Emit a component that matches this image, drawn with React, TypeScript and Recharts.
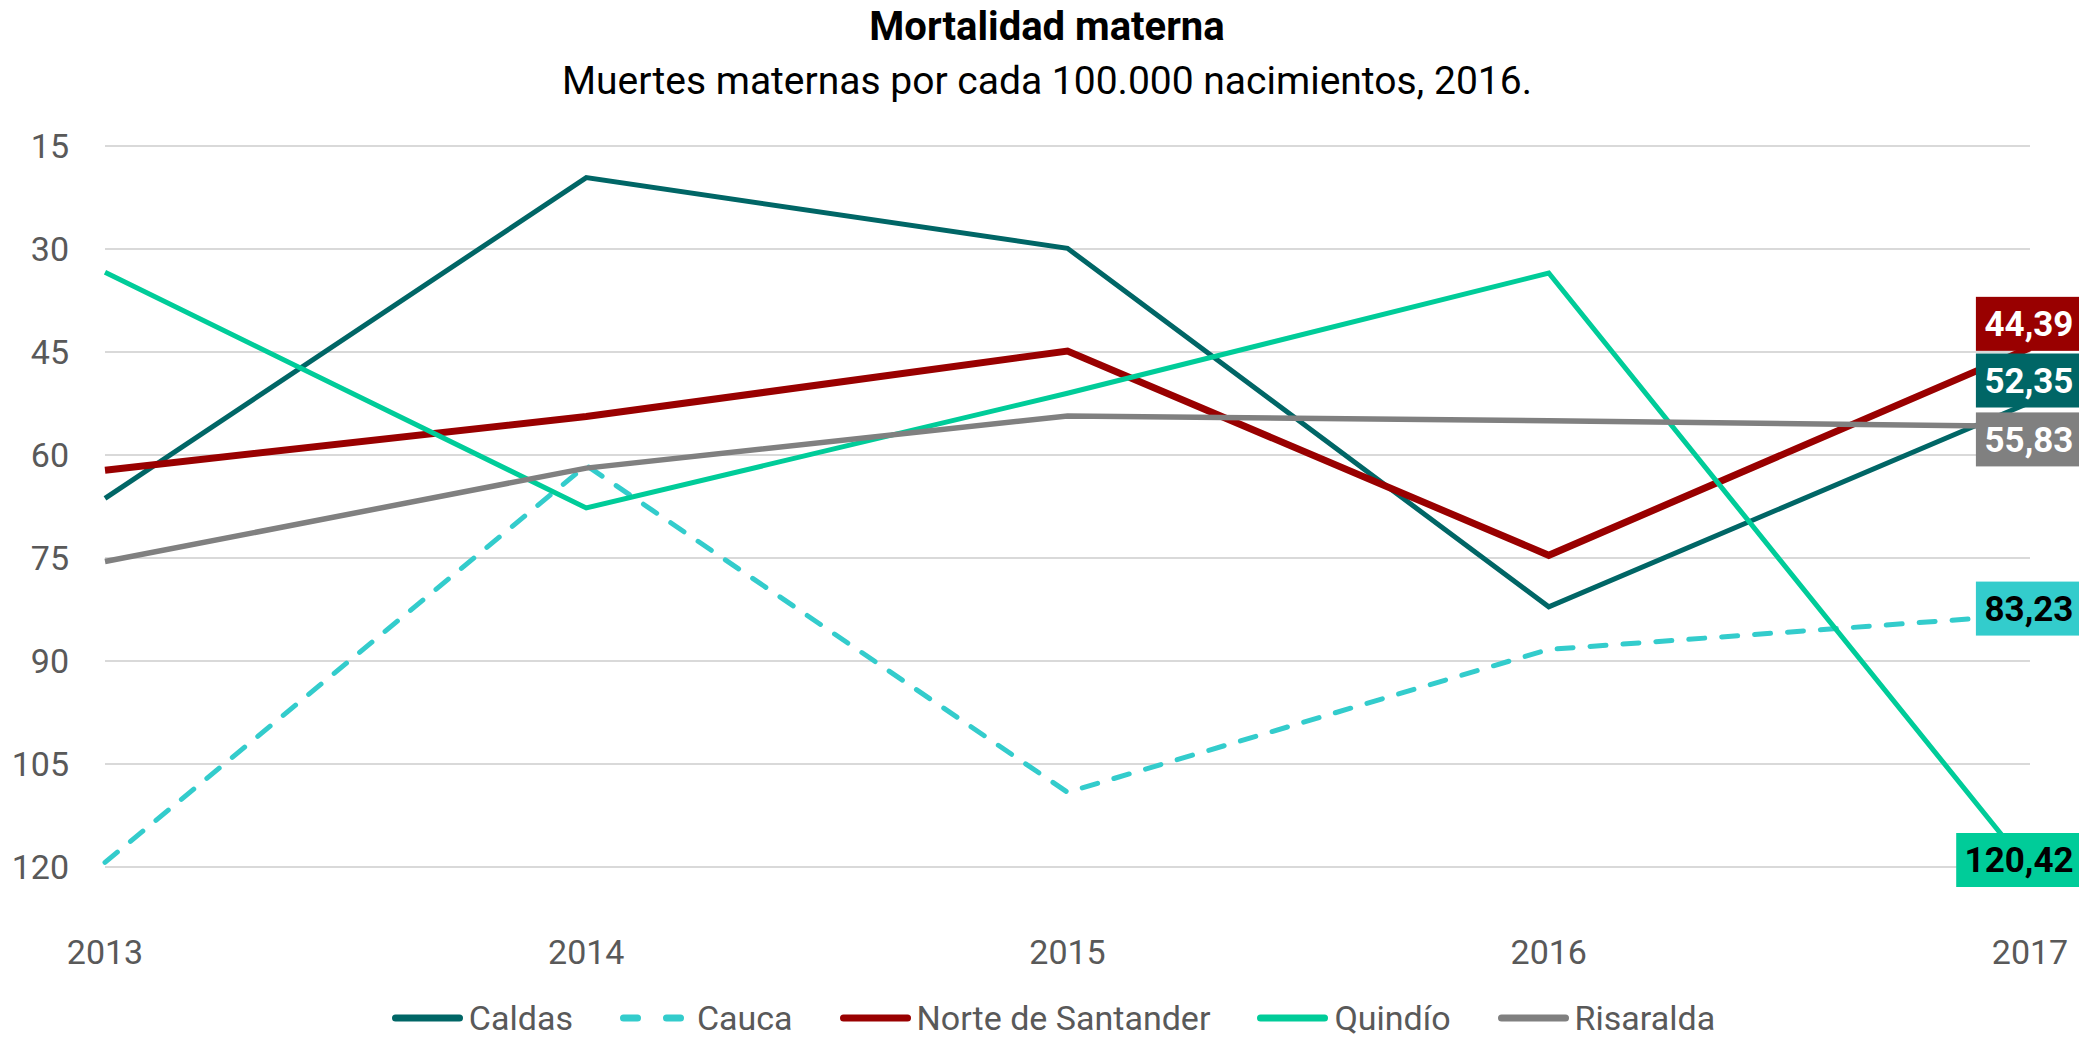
import { LineChart, Line, XAxis, YAxis, CartesianGrid, Legend, LabelList } from 'recharts'

const years = ['2013', '2014', '2015', '2016', '2017']
const caldas = [66.3, 19.6, 29.9, 82.1, 52.35]
const cauca = [119.3, 61.5, 109.1, 88.3, 83.23]
const norteSantander = [62.2, 54.4, 44.85, 74.6, 44.39]
const quindio = [33.4, 67.7, 51.0, 33.5, 120.42]
const risaralda = [75.5, 61.9, 54.3, 55.0, 55.83]
const yTicks = [15, 30, 45, 60, 75, 90, 105, 120]

const series = [
  { name: 'Caldas', values: caldas, color: '#006666', width: 5, dash: undefined, labelText: '#ffffff', labelDy: -22 },
  { name: 'Cauca', values: cauca, color: '#33CCCC', width: 5, dash: '16 17', labelText: '#000000', labelDy: -6 },
  { name: 'Norte de Santander', values: norteSantander, color: '#990000', width: 7, dash: undefined, labelText: '#ffffff', labelDy: -24 },
  { name: 'Quindío', values: quindio, color: '#00CC99', width: 5, dash: undefined, labelText: '#000000', labelDy: -10 },
  { name: 'Risaralda', values: risaralda, color: '#808080', width: 5.5, dash: undefined, labelText: '#ffffff', labelDy: 13 },
]

const data = years.map((year, i) => {
  const row: Record<string, string | number> = { year }
  series.forEach((s) => { row[s.name] = s.values[i] })
  return row
})

const fmt = (v: number) => v.toFixed(2).replace('.', ',')

function endLabel(color: string, textColor: string, dy: number) {
  return (props: any) => {
    const { x, y, value, index } = props
    if (index !== years.length - 1) return null
    const text = fmt(Number(value))
    const digits = text.length - 1
    const w = digits * 19.7 + 7.3 + 20
    const h = 54
    const right = x + 52
    const cy = y + dy
    return (
      <g>
        <rect x={right - w} y={cy - h / 2} width={w} height={h} fill={color} />
        <text x={right - w / 2} y={cy} dy="0.355em" textAnchor="middle" fill={textColor}
          fontSize={35} fontWeight={700} fontFamily="Roboto">{text}</text>
      </g>
    )
  }
}

function LegendRow() {
  return (
    <div style={{ display: 'flex', justifyContent: 'center', alignItems: 'center', height: 44, paddingLeft: 124 }}>
      {series.map((s) => (
        <div key={s.name} style={{ display: 'flex', alignItems: 'center', marginRight: 47 }}>
          <svg width={71} height={12} style={{ marginRight: 6 }}>
            <line x1={3.5} y1={6} x2={67.5} y2={6} stroke={s.color} strokeWidth={7}
              strokeLinecap="round" strokeDasharray={s.dash ? '14 29' : undefined} />
          </svg>
          <span style={{ fontSize: 34, color: '#595959', fontFamily: 'Roboto', lineHeight: 1 }}>{s.name}</span>
        </div>
      ))}
    </div>
  )
}

export default function App() {
  return (
    <div style={{ position: 'absolute', left: 0, top: 0, width: 2079, height: 1040, background: '#fff', fontFamily: 'Roboto' }}>
      <div style={{ position: 'absolute', left: 0, top: 7, width: 2094, textAlign: 'center', fontSize: 40, fontWeight: 700, lineHeight: 1, color: '#000' }}>
        Mortalidad materna
      </div>
      <div style={{ position: 'absolute', left: 0, top: 62, width: 2094, textAlign: 'center', fontSize: 39, lineHeight: 1, color: '#000' }}>
        Muertes maternas por cada 100.000 nacimientos, 2016.
      </div>
      <LineChart width={2079} height={1040} data={data} margin={{ top: 146, right: 49, left: 0, bottom: 0 }}>
        <CartesianGrid vertical={false} horizontalValues={yTicks} stroke="#D9D9D9" strokeWidth={2} />
        <XAxis dataKey="year" axisLine={false} tickLine={false} interval={0} height={126}
          tickMargin={64} tick={{ fill: '#595959', fontSize: 34 }} />
        <YAxis reversed domain={[15, 120]} ticks={yTicks} axisLine={false} tickLine={false} width={105}
          tickMargin={30} tick={{ fill: '#595959', fontSize: 34 }} />
        <Legend verticalAlign="bottom" height={44} content={() => <LegendRow />} />
        {series.map((s) => (
          <Line key={s.name} type="linear" dataKey={s.name} stroke={s.color} strokeWidth={s.width}
            strokeDasharray={s.dash} strokeLinecap={s.dash ? 'round' : 'butt'} dot={false} activeDot={false}
            isAnimationActive={false}>
            <LabelList dataKey={s.name} content={endLabel(s.color, s.labelText, s.labelDy)} />
          </Line>
        ))}
      </LineChart>
    </div>
  )
}
